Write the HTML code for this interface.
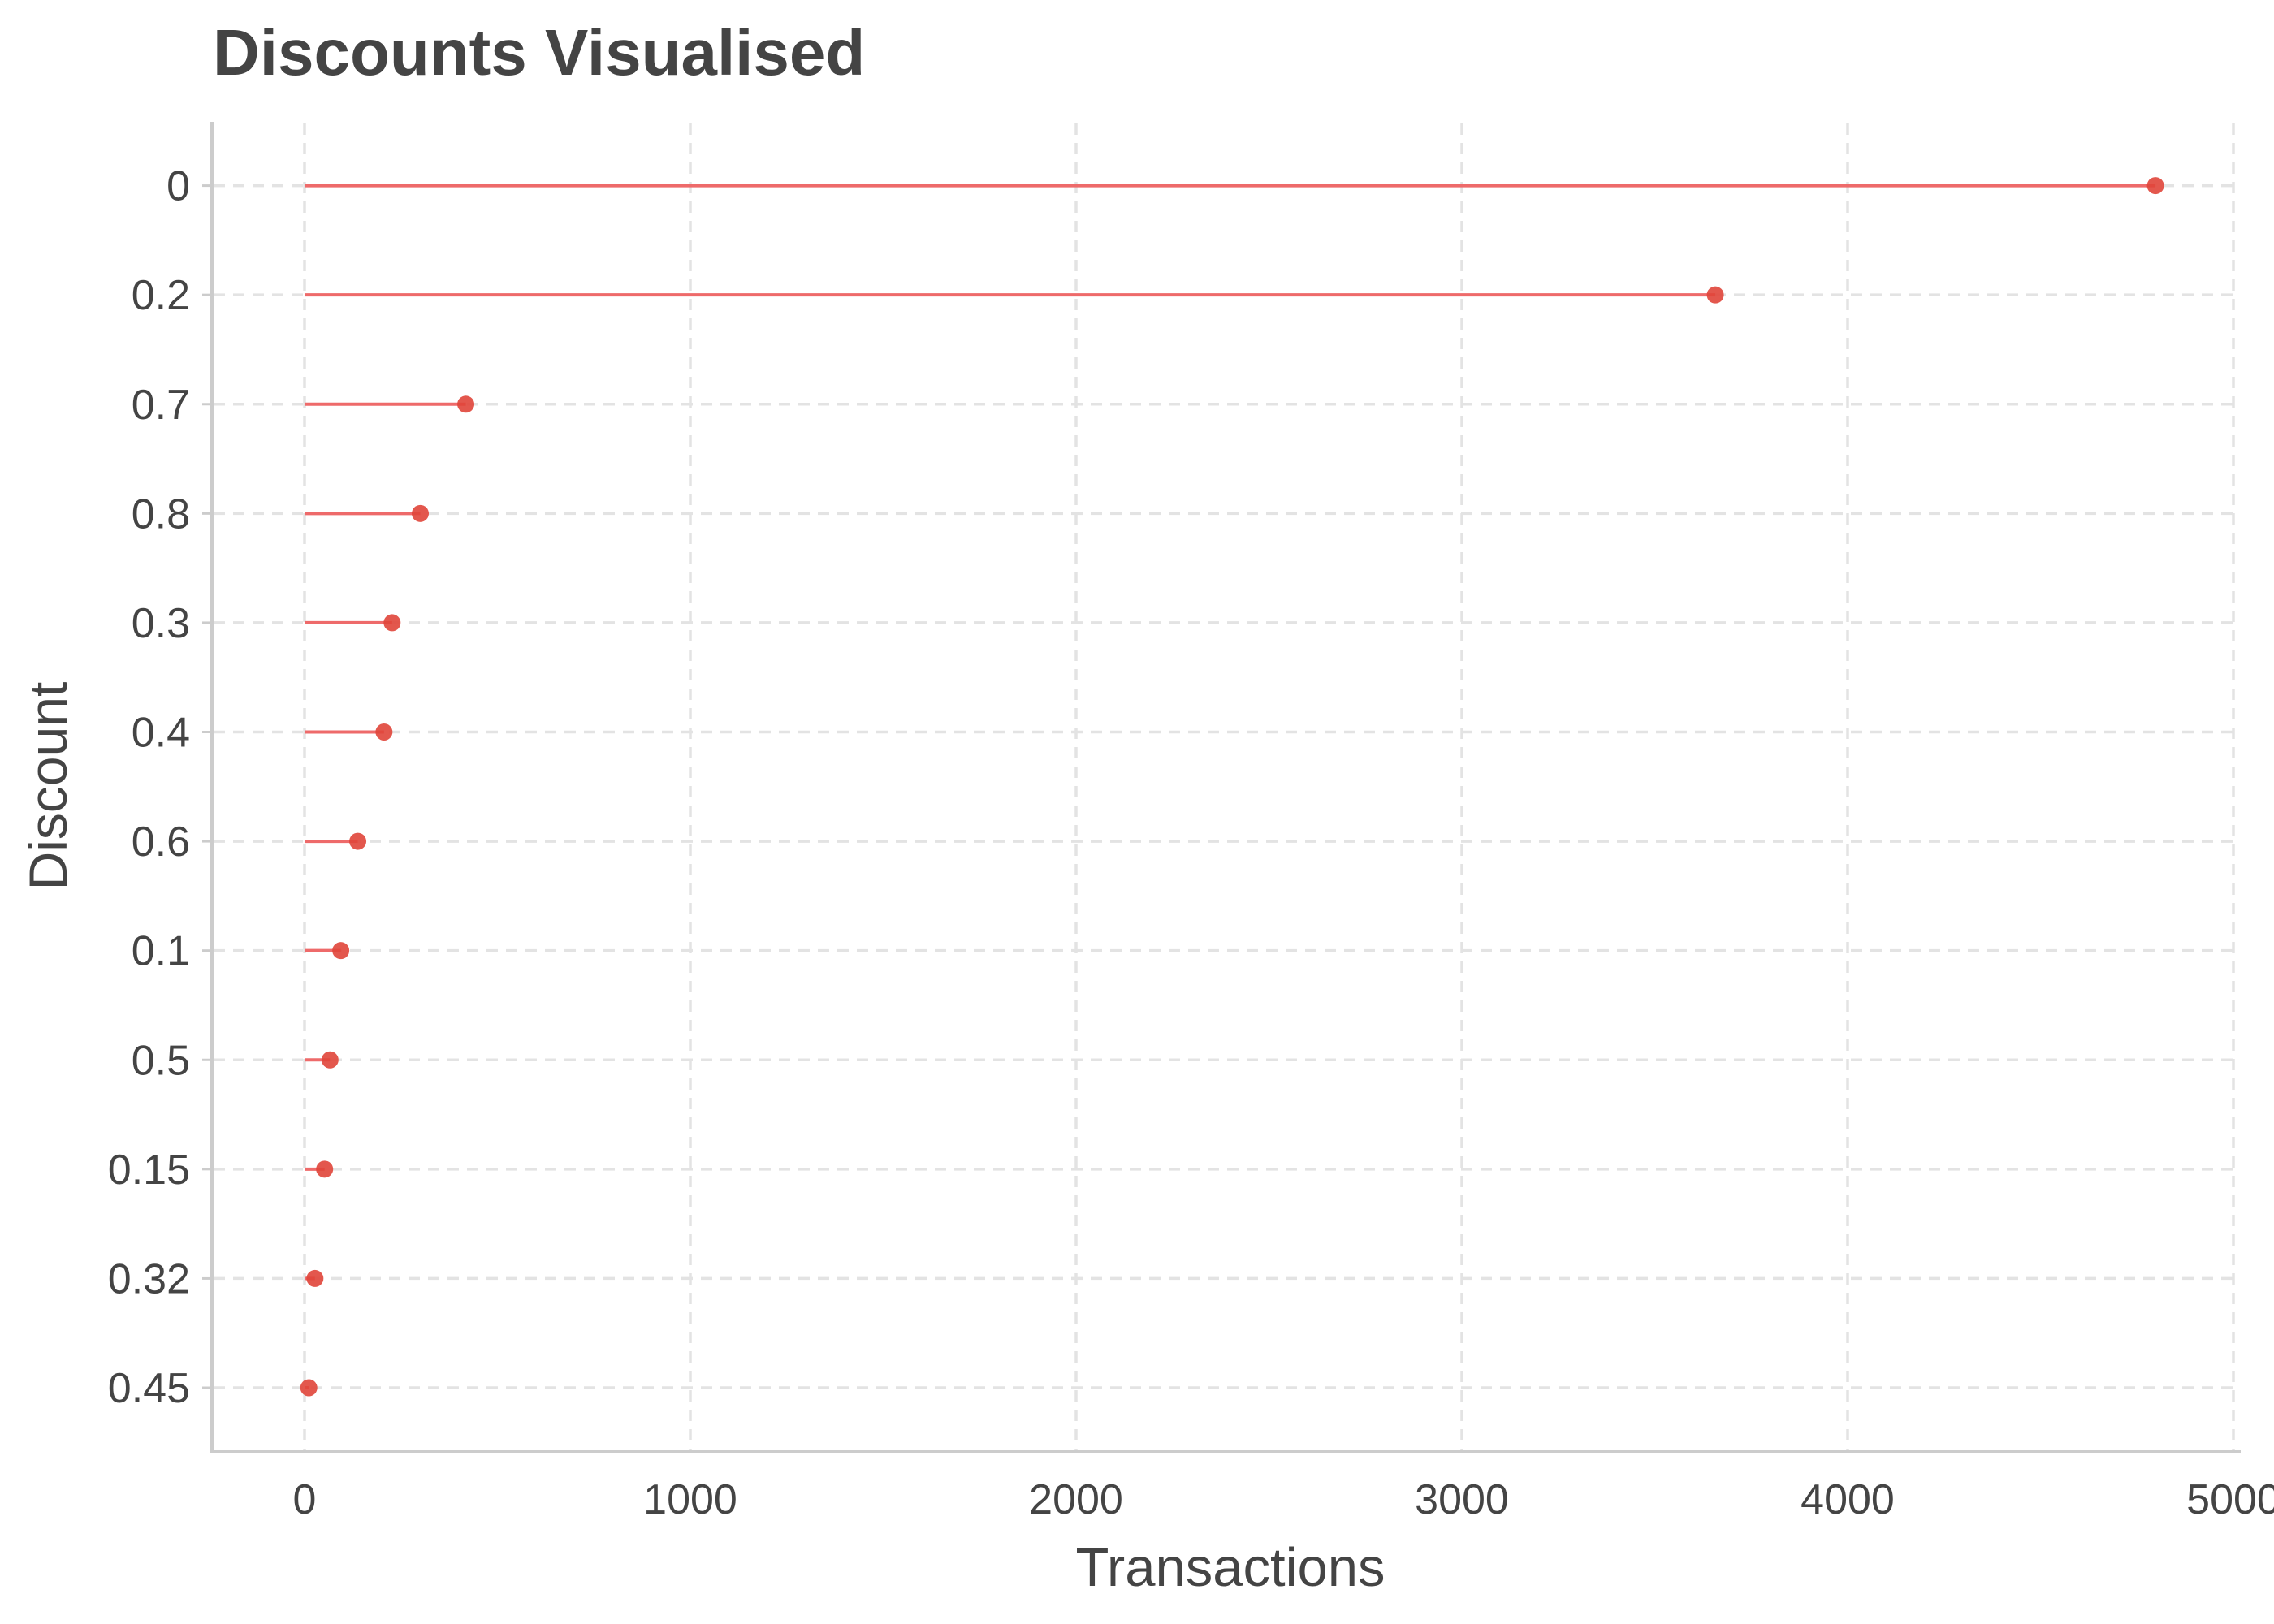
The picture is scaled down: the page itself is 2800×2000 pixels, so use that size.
<!DOCTYPE html>
<html><head><meta charset="utf-8"><style>
html,body{margin:0;padding:0;background:#fff;}
svg{display:block;font-family:"Liberation Sans",sans-serif;}
</style></head><body>
<svg id="chart" width="2800" height="2000" viewBox="0 0 2800 2000" xmlns="http://www.w3.org/2000/svg">
<text x="262" y="92" font-size="80" font-weight="bold" fill="#444">Discounts Visualised</text>
<g id="grid"></g>
<g id="marks"></g>
<line x1="261" y1="150" x2="261" y2="1788" stroke="#ccc" stroke-width="4"/>
<line x1="259" y1="1788" x2="2759" y2="1788" stroke="#ccc" stroke-width="4"/>
<g id="xticks"></g>
<g id="yticks"></g>
<text x="1515" y="1953" font-size="67" fill="#444" text-anchor="middle">Transactions</text>
<text transform="translate(82,968) rotate(-90)" font-size="66" fill="#444" text-anchor="middle">Discount</text>
</svg>
<script>
const categories = ["0","0.2","0.7","0.8","0.3","0.4","0.6","0.1","0.5","0.15","0.32","0.45"];
const transactions = [4798,3657,418,300,227,206,138,94,66,52,27,11];
const xTickValues = [0,1000,2000,3000,4000,5000];
const NS="http://www.w3.org/2000/svg";
const X0=375, X1=2750, xMax=5000;
const Y0=228.6, Y1=1709;
function xs(v){return X0+(X1-X0)*v/xMax;}
function ys(i){return Y0+(Y1-Y0)*i/(categories.length-1);}
function mk(t,a,p){const e=document.createElementNS(NS,t);for(const k in a)e.setAttribute(k,a[k]);p.appendChild(e);return e;}
const grid=document.getElementById('grid'),marks=document.getElementById('marks'),xt=document.getElementById('xticks'),yt=document.getElementById('yticks');
xTickValues.forEach(v=>{
  const l=mk('line',{x1:xs(v),x2:xs(v),y1:152,y2:1786,stroke:'#e3e3e3','stroke-width':3.5,'stroke-dasharray':'14,10'},grid);
  
  
  const t=mk('text',{x:xs(v),y:1864,'font-size':52,fill:'#444','text-anchor':'middle'},xt);
  
  
  t.textContent=v;
});
categories.forEach((c,i)=>{
  const y=ys(i);
  const g=mk('line',{x1:263,x2:2759,y1:y,y2:y,stroke:'#e3e3e3','stroke-width':3.5,'stroke-dasharray':'14,10'},grid);
  
  
  const tk=mk('line',{x1:249,x2:261,y1:y,y2:y,stroke:'#ccc','stroke-width':3},yt);
  
  
  const t=mk('text',{x:234,y:y+18,'font-size':52,fill:'#444','text-anchor':'end'},yt);
  
  
  t.textContent=c;
  const s=mk('line',{x1:xs(0),x2:xs(transactions[i]),y1:y,y2:y,stroke:'#ee6a6a','stroke-width':4},marks);
  
  
  const d=mk('circle',{cx:xs(transactions[i]),cy:y,r:10.5,fill:'#e0453a','fill-opacity':0.9},marks);
  
  
});
</script>
</body></html>
